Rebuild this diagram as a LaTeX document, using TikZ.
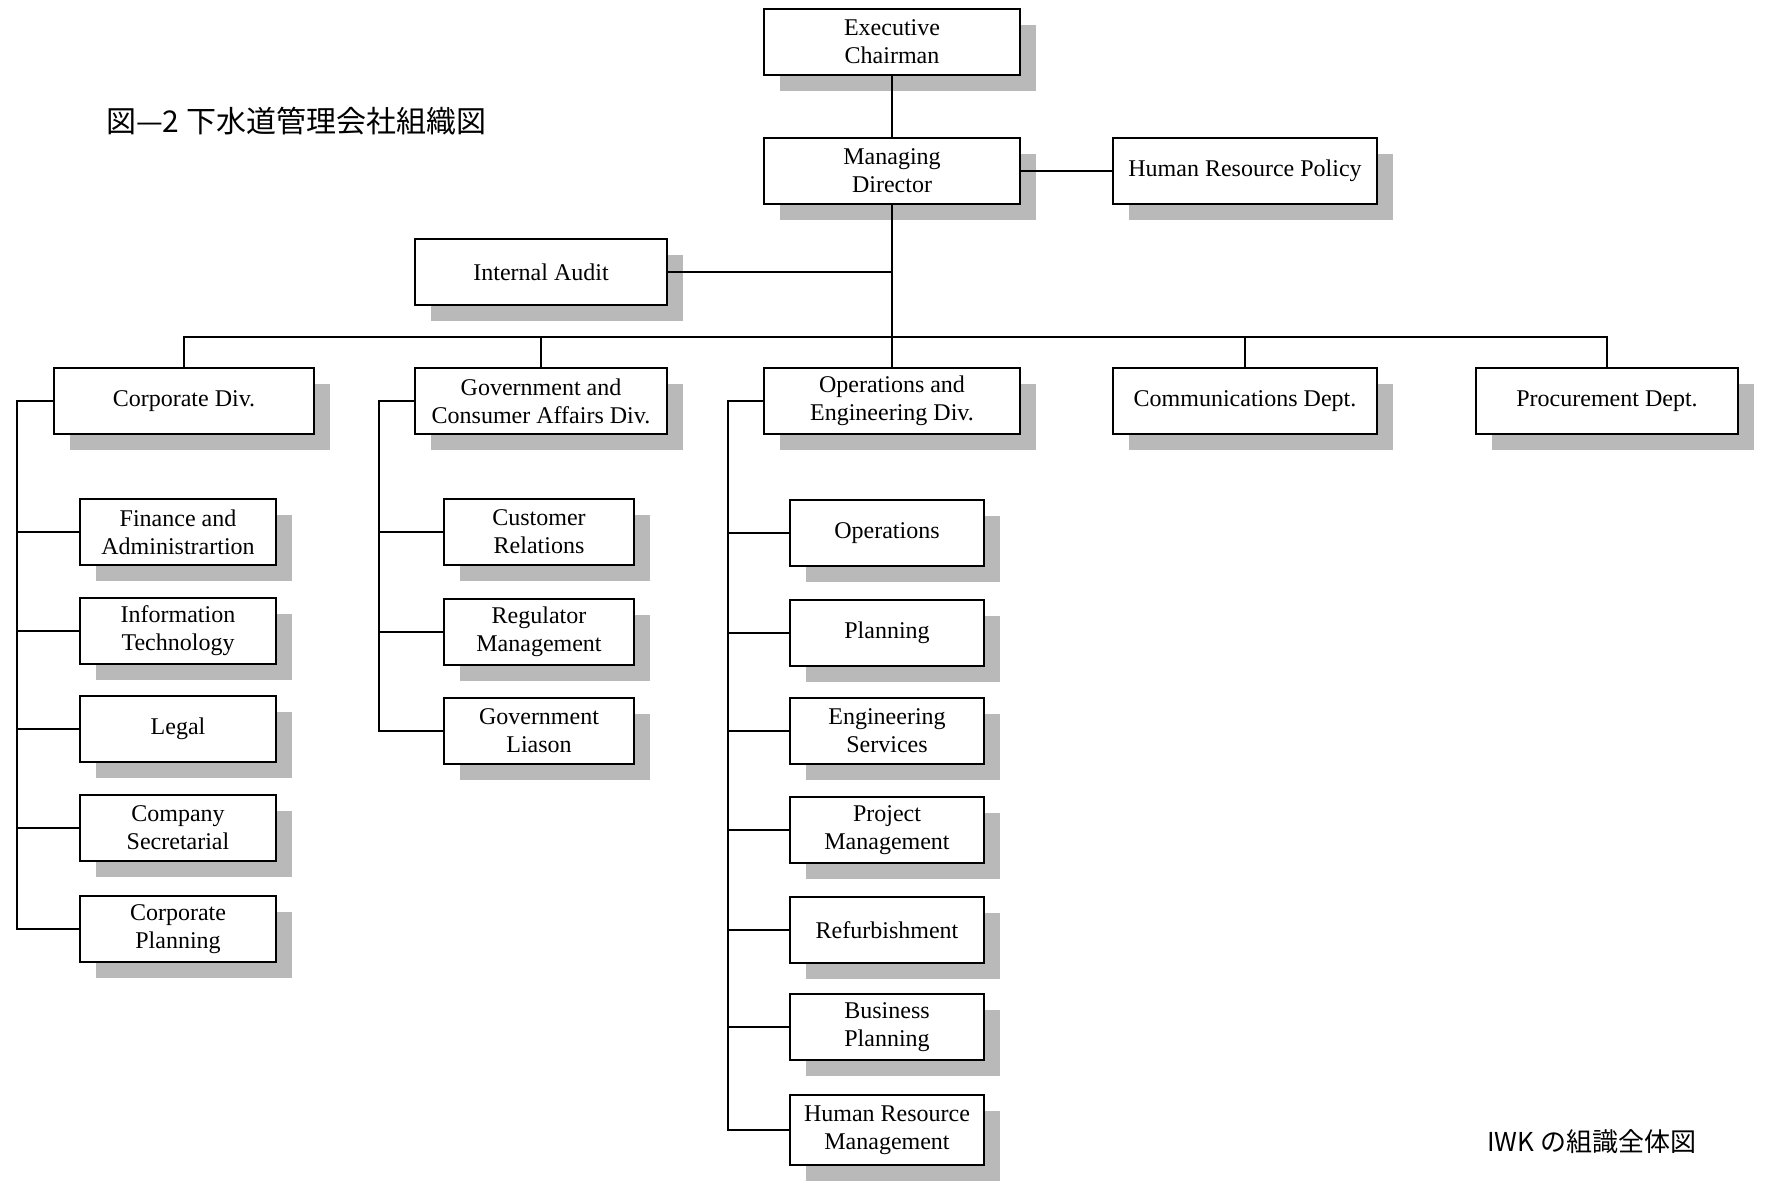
\documentclass[tikz,border=0pt]{standalone}
\usepackage{fontspec}
\setmainfont{Liberation Serif}
\newfontfamily\cjk{Noto Sans CJK JP}
\usetikzlibrary{shadows}

\begin{document}
\begin{tikzpicture}[x=0.5pt, y=-0.5pt,
		box/.style={draw, line width=1.2pt, fill=white, align=center, inner sep=2pt,
			font=\fontsize{12}{14}\selectfont, minimum height=33pt,
			drop shadow={shadow xshift=8pt, shadow yshift=-8pt, opacity=1, fill=gray!55}},
		link/.style={line width=0.8pt}]
			\useasboundingbox (0,0) rectangle (1767,1184);
			
			\def\xA{178};
			\def\xB{539};
			\def\xC{887};
			
			%top
			\node [box, minimum width=128pt] (exec) at (892,42) {Executive\\Chairman};
			\node [box, minimum width=128pt] (md) at (892,171) {Managing\\Director};
			\node [box, minimum width=132pt] (hrp) at (1245,171) {Human Resource Policy};
			\node [box, minimum width=126pt] (audit) at (541,272) {Internal Audit};
			
			%divisions
			\node [box, minimum width=130pt] (corp) at (184,401) {Corporate Div.};
			\node [box, minimum width=126pt] (gov) at (541,401) {Government and\\Consumer Affairs Div.};
			\node [box, minimum width=128pt] (ops) at (892,401) {Operations and\\Engineering Div.};
			\node [box, minimum width=132pt] (comm) at (1245,401) {Communications Dept.};
			\node [box, minimum width=131pt] (proc) at (1607,401) {Procurement Dept.};
			
			%corporate div.
			\node [box, minimum width=98pt] (fin) at (\xA,532) {Finance and\\Administrartion};
			\node [box, minimum width=98pt] (it) at (\xA,631) {Information\\Technology};
			\node [box, minimum width=98pt] (legal) at (\xA,729) {Legal};
			\node [box, minimum width=98pt] (sec) at (\xA,828) {Company\\Secretarial};
			\node [box, minimum width=98pt] (cplan) at (\xA,929) {Corporate\\Planning};
			
			%government and consumer affairs div.
			\node [box, minimum width=95pt] (cust) at (\xB,532) {Customer\\Relations};
			\node [box, minimum width=95pt] (reg) at (\xB,632) {Regulator\\Management};
			\node [box, minimum width=95pt] (liason) at (\xB,731) {Government\\Liason};
			
			%operations and engineering div.
			\node [box, minimum width=97pt] (oper) at (\xC,533) {Operations};
			\node [box, minimum width=97pt] (plan) at (\xC,633) {Planning};
			\node [box, minimum width=97pt] (eng) at (\xC,731) {Engineering\\Services};
			\node [box, minimum width=97pt] (pm) at (\xC,830) {Project\\Management};
			\node [box, minimum width=97pt] (refurb) at (\xC,930) {Refurbishment};
			\node [box, minimum width=97pt] (bplan) at (\xC,1027) {Business\\Planning};
			\node [box, minimum width=97pt, minimum height=35pt] (hrm) at (\xC,1130) {Human Resource\\Management};
			
			%connectors
			\coordinate (bus) at (892,337);
			\draw [link] (exec) -- (md);
			\draw [link] (md) -- (hrp);
			\draw [link] (md) -- (bus);
			\draw [link] (audit.east) -- (audit.east -| bus);
			\draw [link] (corp.north) |- (bus) -| (proc.north);
			\foreach \n in {gov, ops, comm}
				\draw [link] (\n.north) -- (\n.north |- bus);
			
			\coordinate (cA) at (17,401);
			\coordinate (cB) at (379,401);
			\coordinate (cC) at (728,401);
			
			\draw [link] (corp.west) -- (cA) |- (cplan.west);
			\foreach \n in {fin, it, legal, sec}
				\draw [link] (\n.west) -- (\n.west -| cA);
			
			\draw [link] (gov.west) -- (cB) |- (liason.west);
			\foreach \n in {cust, reg}
				\draw [link] (\n.west) -- (\n.west -| cB);
			
			\draw [link] (ops.west) -- (cC) |- (hrm.west);
			\foreach \n in {oper, plan, eng, pm, refurb, bplan}
				\draw [link] (\n.west) -- (\n.west -| cC);
			
			%titles
			\node [anchor=west, font=\cjk\fontsize{15}{18}\selectfont] (title) at (99,121) {図—2 下水道管理会社組織図};
			\node [anchor=west, font=\cjk\fontsize{13}{16}\selectfont] (caption) at (1480,1142) {IWK の組識全体図};
		\end{tikzpicture}
\end{document}
